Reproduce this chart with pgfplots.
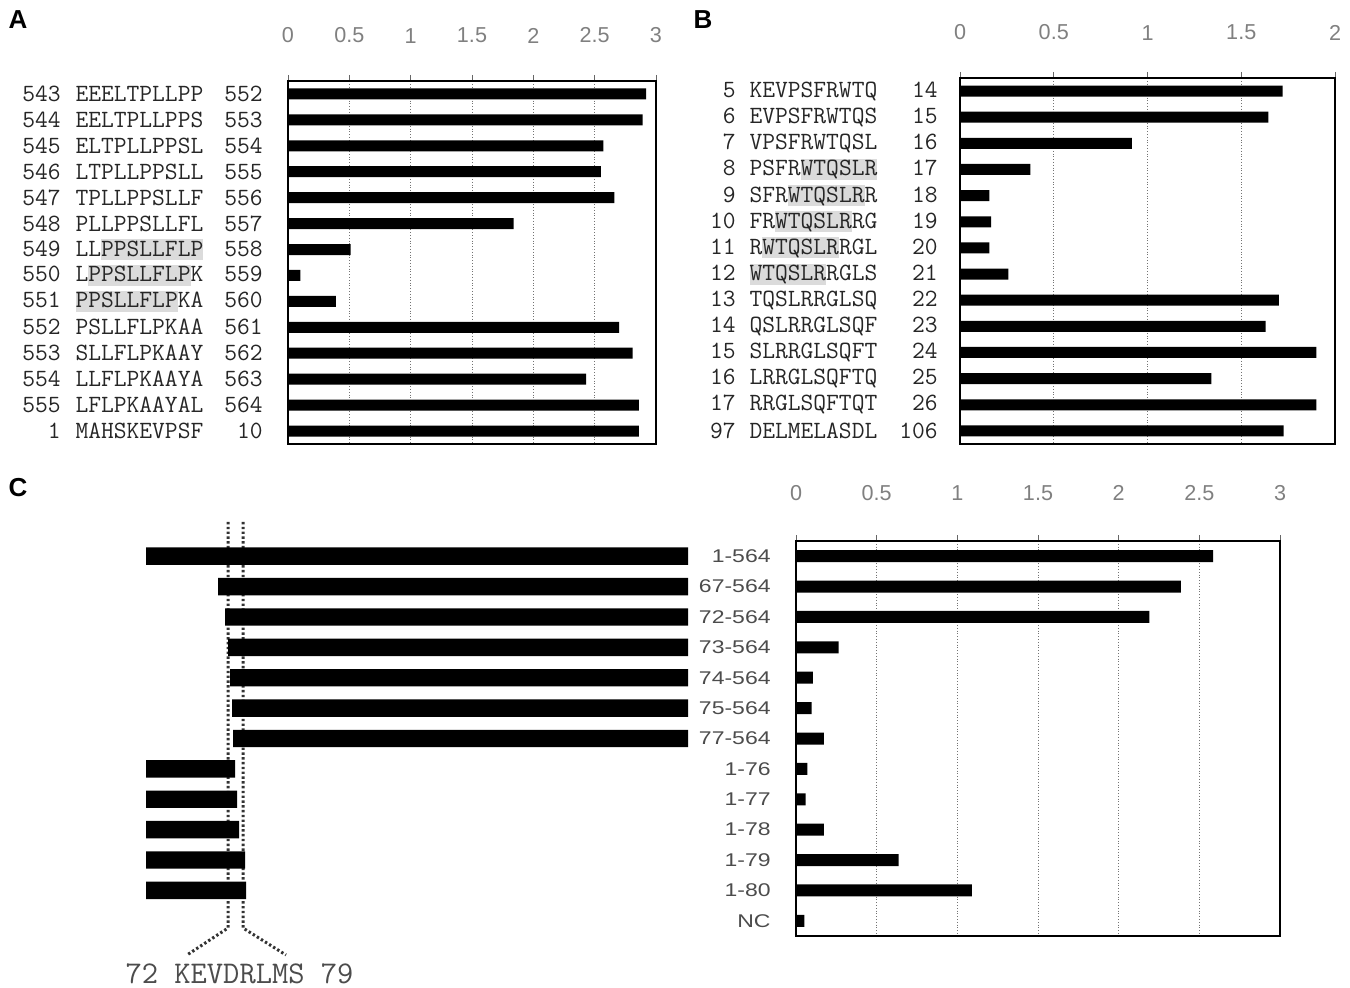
\documentclass[border=0pt]{standalone}
\usepackage{pgfplots}
\pgfplotsset{compat=1.18}
\usepackage{fontspec}
\setmainfont{Liberation Sans}
\newfontfamily\clabfont[FakeStretch=1.25]{Liberation Sans}
\definecolor{tickc}{gray}{0.5}
\definecolor{seqc}{gray}{0.15}
\newcommand\tickfont{\fontsize{10.8}{12}\selectfont}
\newcommand\seqfont{\ttfamily\fontsize{12.4}{13}\selectfont}
\newcommand\hl[1]{{\setlength\fboxsep{0pt}\colorbox{black!14}{\rule[-2pt]{0pt}{10.5pt}#1}}}
\newcommand\la[3]{\makebox[20pt][r]{#1}\hspace{7.5pt}\makebox[93.5pt][l]{#2\hfill #3}}
\newcommand\lb[3]{\makebox[15pt][r]{#1}\hspace{7pt}\makebox[94pt][l]{#2\hfill #3}}
\pgfplotsset{
  panel/.style={scale only axis, anchor=north west, xbar, y dir=reverse,
    axis line style={line width=0.6pt},
    xmajorgrids, major grid style={densely dotted, black!55, line width=0.4pt},
    xtick pos=right, xticklabel pos=right, tick align=outside,
    major tick length=3pt, minor tick length=3pt,
    tick style={black!60, line width=0.4pt},
    ytick style={draw=none},
    xticklabel style={font=\tickfont, text=tickc},
    /pgf/number format/assume math mode=true},
}
\begin{document}
\begin{tikzpicture}
\useasboundingbox (0,0) rectangle (675pt,-494pt);

% panel letters
\node[font=\bfseries\fontsize{13}{13}\selectfont] at (9pt,-10pt) {A};
\node[font=\bfseries\fontsize{13}{13}\selectfont] at (351.5pt,-10pt) {B};
\node[font=\bfseries\fontsize{13}{13}\selectfont] at (9pt,-244pt) {C};

% ---------------- Panel A ----------------
\begin{axis}[panel, at={(144pt,-40.5pt)}, width=184pt, height=181.5pt,
  xmin=0, xmax=3, xtick={0,0.5,1,1.5,2,2.5,3},
  ymin=-0.5, ymax=13.5, ytick={0,...,13},
  minor ytick={0.5,1.5,...,12.5},
  bar width=5.5pt,
  xticklabel style={yshift=12.4pt},
  yticklabel style={font=\seqfont, text=seqc, anchor=east, inner sep=0pt, xshift=-9.5pt},
  yticklabels={
    {\la{543}{EEELTPLLPP}{552}},
    {\la{544}{EELTPLLPPS}{553}},
    {\la{545}{ELTPLLPPSL}{554}},
    {\la{546}{LTPLLPPSLL}{555}},
    {\la{547}{TPLLPPSLLF}{556}},
    {\la{548}{PLLPPSLLFL}{557}},
    {\la{549}{LL\hl{PPSLLFLP}}{558}},
    {\la{550}{L\hl{PPSLLFLP}K}{559}},
    {\la{551}{\hl{PPSLLFLP}KA}{560}},
    {\la{552}{PSLLFLPKAA}{561}},
    {\la{553}{SLLFLPKAAY}{562}},
    {\la{554}{LLFLPKAAYA}{563}},
    {\la{555}{LFLPKAAYAL}{564}},
    {\la{1}{MAHSKEVPSF}{10}}},
  ]
\addplot[fill=black, draw=none] coordinates {
  (2.92,0) (2.89,1) (2.57,2) (2.55,3) (2.66,4) (1.84,5) (0.51,6)
  (0.10,7) (0.39,8) (2.70,9) (2.81,10) (2.43,11) (2.86,12) (2.86,13)};
\end{axis}

% ---------------- Panel B ----------------
\begin{axis}[panel, at={(480pt,-39pt)}, width=187.5pt, height=183pt,
  xmin=0, xmax=2, xtick={0,0.5,1,1.5,2},
  ymin=-0.5, ymax=13.5, ytick={0,...,13},
  minor ytick={0.5,1.5,...,12.5},
  bar width=5.5pt,
  xticklabel style={yshift=12.4pt},
  yticklabel style={font=\seqfont, text=seqc, anchor=east, inner sep=0pt, xshift=-8pt},
  yticklabels={
    {\lb{5}{KEVPSFRWTQ}{14}},
    {\lb{6}{EVPSFRWTQS}{15}},
    {\lb{7}{VPSFRWTQSL}{16}},
    {\lb{8}{PSFR\hl{WTQSLR}}{17}},
    {\lb{9}{SFR\hl{WTQSLR}R}{18}},
    {\lb{10}{FR\hl{WTQSLR}RG}{19}},
    {\lb{11}{R\hl{WTQSLR}RGL}{20}},
    {\lb{12}{\hl{WTQSLR}RGLS}{21}},
    {\lb{13}{TQSLRRGLSQ}{22}},
    {\lb{14}{QSLRRGLSQF}{23}},
    {\lb{15}{SLRRGLSQFT}{24}},
    {\lb{16}{LRRGLSQFTQ}{25}},
    {\lb{17}{RRGLSQFTQT}{26}},
    {\lb{97}{DELMELASDL}{106}}},
  ]
\addplot[fill=black, draw=none] coordinates {
  (1.72,0) (1.645,1) (0.917,2) (0.375,3) (0.157,4) (0.166,5) (0.157,6)
  (0.258,7) (1.70,8) (1.63,9) (1.90,10) (1.34,11) (1.90,12) (1.726,13)};
\end{axis}

% ---------------- Panel C : schematic ----------------
\draw[black!80, line width=1.5pt, dash pattern=on 1.2pt off 1.2pt]
  (114pt,-261pt) -- (114pt,-464pt) -- (93.5pt,-477.5pt);
\draw[black!80, line width=1.5pt, dash pattern=on 1.2pt off 1.2pt]
  (121.5pt,-261pt) -- (121.5pt,-464pt) -- (143pt,-477.5pt);
\node[font=\ttfamily\fontsize{15.8}{16}\selectfont, text=black!70] at (119.75pt,-487pt) {72 KEVDRLMS 79};

\begin{axis}[scale only axis, anchor=north west, at={(73pt,-270.5pt)},
  width=271pt, height=197.5pt, hide axis,
  xmin=0, xmax=542, ymin=-0.5, ymax=12.5, y dir=reverse,
  xbar stacked, bar width=8.7pt]
\addplot[draw=none, fill=none] coordinates {
  (0,0) (72,1) (79,2) (82,3) (84,4) (86,5) (87,6)
  (0,7) (0,8) (0,9) (0,10) (0,11)};
\addplot[fill=black, draw=none] coordinates {
  (542,0) (470,1) (463,2) (460,3) (458,4) (456,5) (455,6)
  (89,7) (91,8) (93,9) (99,10) (100,11)};
\end{axis}

% ---------------- Panel C : chart ----------------
\begin{axis}[panel, at={(398pt,-270.5pt)}, width=242pt, height=197.5pt,
  xmin=0, xmax=3, xtick={0,0.5,1,1.5,2,2.5,3},
  ymin=-0.5, ymax=12.5, ytick={0,...,12},
  minor ytick={0.5,1.5,...,11.5},
  bar width=6pt,
  xticklabel style={yshift=13.8pt},
  yticklabel style={font=\clabfont\fontsize{9.2}{10}\selectfont, text=black!70, anchor=east, inner sep=0pt, xshift=-9.5pt},
  yticklabels={1-564,67-564,72-564,73-564,74-564,75-564,77-564,1-76,1-77,1-78,1-79,1-80,NC},
  ]
\addplot[fill=black, draw=none] coordinates {
  (2.586,0) (2.385,1) (2.19,2) (0.264,3) (0.105,4) (0.097,5) (0.173,6)
  (0.071,7) (0.06,8) (0.173,9) (0.636,10) (1.09,11) (0.052,12)};
\end{axis}
\end{tikzpicture}
\end{document}
